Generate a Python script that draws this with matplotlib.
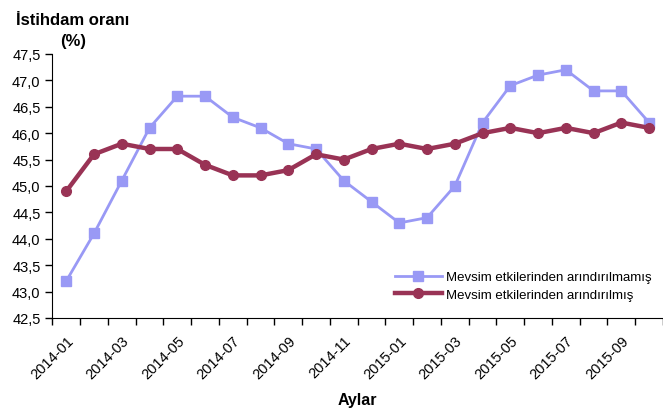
import numpy as np
from matplotlib import pyplot as plt
from matplotlib.ticker import FixedLocator, FuncFormatter

plt.rcParams['font.family'] = ['Liberation Sans', 'DejaVu Sans']

# monthly labels 2014-01 .. 2015-10
months = ["2014-01", "2014-02", "2014-03", "2014-04", "2014-05", "2014-06",
          "2014-07", "2014-08", "2014-09", "2014-10", "2014-11", "2014-12",
          "2015-01", "2015-02", "2015-03", "2015-04", "2015-05", "2015-06",
          "2015-07", "2015-08", "2015-09", "2015-10"]

# not seasonally adjusted
raw = [43.2, 44.1, 45.1, 46.1, 46.7, 46.7, 46.3, 46.1, 45.8, 45.7, 45.1,
       44.7, 44.3, 44.4, 45.0, 46.2, 46.9, 47.1, 47.2, 46.8, 46.8, 46.2]

# seasonally adjusted
adjusted = [44.9, 45.6, 45.8, 45.7, 45.7, 45.4, 45.2, 45.2, 45.3, 45.6, 45.5,
            45.7, 45.8, 45.7, 45.8, 46.0, 46.1, 46.0, 46.1, 46.0, 46.2, 46.1]

raw_label = "Mevsim etkilerinden arındırılmamış"
adj_label = "Mevsim etkilerinden arındırılmış"

fig = plt.figure(figsize=(6.63, 4.10), dpi=100)
ax = fig.add_axes([0.079, 0.222, 0.921, 0.644])

x = np.arange(len(months))
ax.plot(x, raw, color="#9999f5", lw=2, marker="s", ms=7, label=raw_label)
ax.plot(x, adjusted, color="#993355", lw=3.2, marker="o", ms=7, label=adj_label)

ax.set_xlim(-0.5, len(months) - 0.5)
ax.set_ylim(42.5, 47.5)
ax.set_yticks(np.arange(42.5, 47.51, 0.5))
ax.yaxis.set_major_formatter(FuncFormatter(lambda v, p: f"{v:.1f}".replace(".", ",")))

# labels every second month at category centres, tick marks between categories
ax.set_xticks(x[::2])
ax.set_xticklabels(months[::2], rotation=45, ha="right", rotation_mode="anchor")
ax.xaxis.set_minor_locator(FixedLocator(np.arange(-0.5, len(months), 1)))
ax.tick_params(axis="x", which="major", length=0, pad=11, labelsize=10.5)
ax.tick_params(axis="x", which="minor", length=5, width=1)
ax.tick_params(axis="y", length=5, width=1, labelsize=10.5)

for s in ["top", "right"]:
    ax.spines[s].set_visible(False)

ax.set_xlabel("Aylar", fontsize=11.5, fontweight="bold", labelpad=8)
fig.text(0.11, 0.925, "İstihdam oranı\n(%)", ha="center", va="center",
         fontsize=12, fontweight="bold", linespacing=1.5)

ax.legend(loc="lower right", frameon=False, fontsize=9.5, handlelength=3.5,
          bbox_to_anchor=(1.0, 0.02), labelspacing=0.4, handletextpad=0.3)

fig.savefig("out.png", dpi=100)
